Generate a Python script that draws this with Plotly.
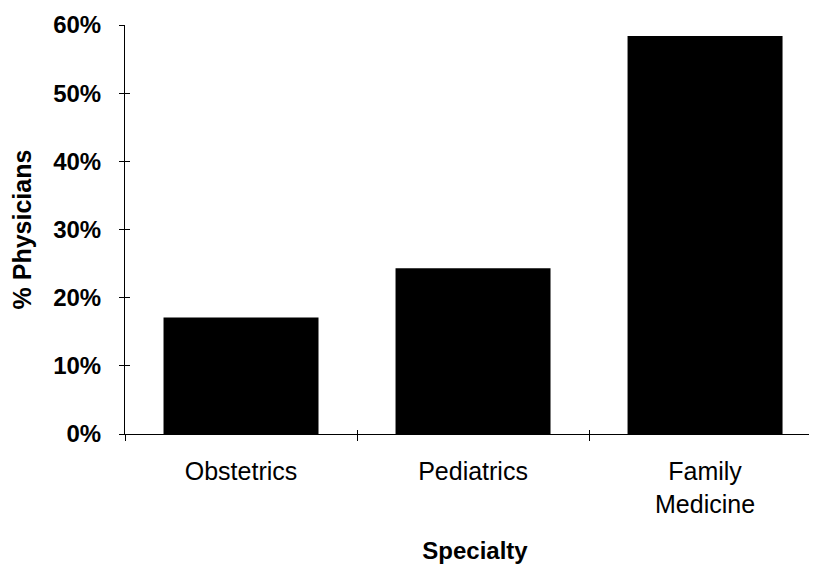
import plotly.graph_objects as go

categories = ["Obstetrics", "Pediatrics", "Family<br>Medicine"]
pct_physicians = [0.171, 0.243, 0.584]
y_ticks = [0, 0.1, 0.2, 0.3, 0.4, 0.5, 0.6]
y_tick_labels = ["0%", "10%", "20%", "30%", "40%", "50%", "60%"]

FONT = "Liberation Sans, Arial, sans-serif"

fig = go.Figure()
fig.add_trace(go.Bar(x=categories, y=pct_physicians,
                     marker=dict(color="black", line=dict(color="black", width=0)),
                     hoverinfo="skip", showlegend=False))
# helper trace so overlay axes (inner half of crossing ticks) get drawn
fig.add_trace(go.Scatter(x=[categories[0]], y=[None], xaxis="x2", yaxis="y2",
                         mode="markers", hoverinfo="skip", showlegend=False))

xr = [-0.5, 2.517]
fig.update_layout(
    width=817, height=574,
    margin=dict(l=117, r=0, t=17, b=148),
    paper_bgcolor="white", plot_bgcolor="white",
    bargap=0.332,
    font=dict(family=FONT, color="black"),
    xaxis=dict(range=xr, type="category", categoryorder="array", categoryarray=categories,
               showgrid=False, zeroline=False, showline=True, linecolor="black", linewidth=1,
               ticks="outside", tickson="boundaries", ticklen=6, tickcolor="black", tickwidth=1,
               tickfont=dict(size=25, family=FONT), ticklabelstandoff=15,
               title=dict(text="<b>Specialty</b>", font=dict(size=24, family=FONT), standoff=25)),
    xaxis2=dict(range=xr, type="category", categoryorder="array", categoryarray=categories,
                overlaying="x", showgrid=False, zeroline=False, showline=False,
                ticks="inside", tickson="boundaries", ticklen=4, tickcolor="black",
                showticklabels=False),
    yaxis=dict(range=[0, 0.6], tickvals=y_ticks, ticktext=["<b>%s</b>" % t for t in y_tick_labels],
               showgrid=False, zeroline=False, showline=True, linecolor="black", linewidth=1,
               ticks="outside", ticklen=5, tickcolor="black", tickwidth=1,
               tickfont=dict(size=24, family=FONT), ticklabelstandoff=13,
               title=dict(text="<b>% Physicians</b>", font=dict(size=25, family=FONT), standoff=16)),
    yaxis2=dict(range=[0, 0.6], tickvals=y_ticks, overlaying="y", showgrid=False, zeroline=False,
                showline=False, ticks="inside", ticklen=5, tickcolor="black",
                showticklabels=False),
)

fig.write_html("out.html")
